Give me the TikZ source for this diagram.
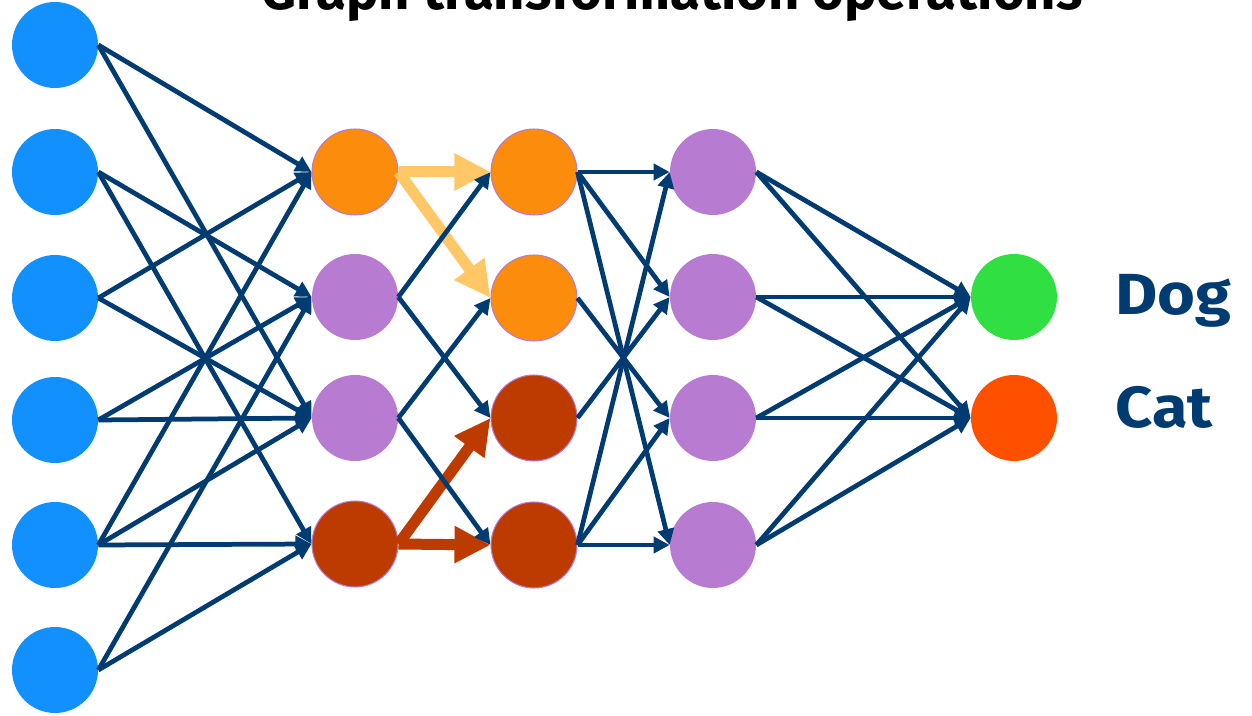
\documentclass[tikz,border=0pt]{standalone}
\usepackage{fontspec}
\setmainfont{Fira Sans}
\newfontfamily\labfont[FakeStretch=1.12]{Fira Sans}
\usetikzlibrary{arrows.meta}
\definecolor{inblue}{RGB}{18,144,254}
\definecolor{orng}{RGB}{251,140,12}
\definecolor{purp}{RGB}{184,123,210}
\definecolor{rust}{RGB}{190,59,0}
\definecolor{dogg}{RGB}{48,224,66}
\definecolor{catt}{RGB}{255,80,0}
\definecolor{navy}{RGB}{0,60,113}
\definecolor{pale}{RGB}{255,199,102}
\begin{document}
\begin{tikzpicture}[x=0.02cm,y=-0.02cm,
  neuron/.style={circle,minimum size=1.72cm,inner sep=0pt},
  rim/.style={draw=purp,line width=0.6pt},
  link/.style={draw=navy,line width=0.095cm,-{Triangle[length=0.32cm,width=0.32cm]}},
  fat/.style={line width=0.22cm,-{Triangle[length=0.72cm,width=0.7cm]}},
  lab/.style={font=\labfont\fontsize{33}{33}\selectfont\bfseries,text=navy,anchor=base west,inner sep=0pt}]
\useasboundingbox (0,0) rectangle (1252,716);
\clip (0,0) rectangle (1252,716);

\node[font=\fontsize{31}{31}\selectfont\bfseries,anchor=base,inner sep=0pt] (title) at (672,10) {Graph transformation operations};

% layers
\foreach \y [count=\i] in {45,172,298,420,545,670}
  \node[neuron,fill=inblue] (b\i) at (55,\y) {};
\foreach \y/\c/\r [count=\i] in {172/orng/rim,297/purp/,418/purp/,544/rust/rim}
  \node[neuron,fill=\c,\r] (h\i) at (355,\y) {};
\foreach \y/\c [count=\i] in {172/orng,298/orng,418/rust,545/rust}
  \node[neuron,fill=\c,rim] (g\i) at (534,\y) {};
\foreach \y [count=\i] in {172,297,418,545}
  \node[neuron,fill=purp] (k\i) at (713,\y) {};
\node[neuron,fill=dogg] (o1) at (1014,297) {};
\node[neuron,fill=catt] (o2) at (1014,418) {};

\node[lab] (dog) at (1115,315) {Dog};
\node[lab] (cat) at (1115,428) {Cat};

% transformations
\draw[fat,pale] (h1.east) -- (g1.west);
\draw[fat,pale] (h1.east) -- (g2.west);
\draw[fat,rust] (h4.east) -- (g3.west);
\draw[fat,rust] (h4.east) -- (g4.west);

\foreach \s/\t in {b1/h1,b1/h3,b2/h2,b2/h4,b3/h1,b3/h3,b4/h2,b4/h3,
  b5/h1,b5/h3,b5/h4,b6/h2,b6/h4,
  h2/g1,h2/g3,h3/g2,h3/g4,
  g1/k1,g1/k2,g1/k4,g2/k3,g3/k2,g4/k1,g4/k3,g4/k4}
  \draw[link] (\s.east) -- (\t.west);
\foreach \s in {1,...,4}
  \foreach \t in {1,2}
    \draw[link] (k\s.east) -- (o\t.west);
\end{tikzpicture}
\end{document}
